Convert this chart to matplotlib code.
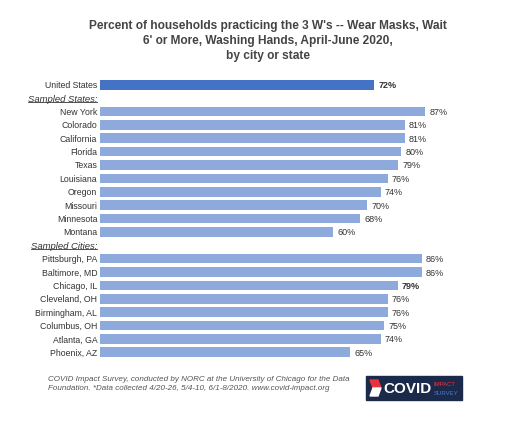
import matplotlib
matplotlib.use("Agg")
import matplotlib.pyplot as plt

labels = ["United States", "Sampled States:", "New York", "Colorado", "California", "Florida", "Texas",
          "Louisiana", "Oregon", "Missouri", "Minnesota", "Montana", "Sampled Cities:",
          "Pittsburgh, PA", "Baltimore, MD", "Chicago, IL", "Cleveland, OH", "Birmingham, AL",
          "Columbus, OH", "Atlanta, GA", "Phoenix, AZ"]
values = [72, None, 87, 81, 81, 80, 79, 76, 74, 70, 68, 60, None, 86, 86, 79, 76, 76, 75, 74, 65]
bold = {"United States", "Chicago, IL"}

plt.rcParams['font.family'] = ['Liberation Sans', 'DejaVu Sans']
fig = plt.figure(figsize=(5.21, 4.27), dpi=100)
W, H = 521, 427
XMIN, XMAX = -8.2, 115
ax = fig.add_axes([100/W, 1-360/H, 421/W, (360-79)/H])
n = len(labels)
for i, (lab, v) in enumerate(zip(labels, values)):
    y = i
    if v is None:
        ax.text(XMIN - 0.8, y, lab, ha='right', va='center', fontsize=6.8, style='italic', color='#333333')
        continue
    col = '#4472C4' if lab == "United States" else '#8EA9DB'
    ax.barh(y, v - XMIN, left=XMIN, height=0.72, color=col)
    ax.text(XMIN - 0.8, y, lab, ha='right', va='center', fontsize=6.3, color='#333333')
    ax.text(v + 1.2, y, f"{v}%", ha='left', va='center', fontsize=6.5, color='#333333',
            fontweight='bold' if lab in bold else 'normal')
ax.set_xlim(XMIN, XMAX)
ax.set_ylim(n - 0.5, -0.5)
ax.axis('off')
fig.canvas.draw()
r = fig.canvas.get_renderer()
for t in ax.texts:
    if t.get_text().endswith(':'):
        bb = t.get_window_extent(r)
        fig.lines.append(plt.Line2D([bb.x0/W, bb.x1/W], [(bb.y0+0.5)/H]*2, transform=fig.transFigure,
                                    color='#333333', lw=0.6))

fig.text(0.515, 1-20/H, "Percent of households practicing the 3 W's -- Wear Masks, Wait\n6' or More, Washing Hands, April-June 2020,\nby city or state",
         ha='center', va='top', fontsize=8.6, fontweight='bold', color='#444444', linespacing=1.35)
fig.text(48/W, 1-384/H, "COVID Impact Survey, conducted by NORC at the University of Chicago for the Data\nFoundation. *Data collected 4/20-26, 5/4-10, 6/1-8/2020. www.covid-impact.org",
         ha='left', va='center', fontsize=5.8, style='italic', color='#555555', linespacing=1.4)
lx, ly, lw, lh = 366/W, 1-401/H, 96/W, 24/H
fig.patches.append(plt.Rectangle((lx, ly), lw, lh, transform=fig.transFigure, color='#1B2A4A'))
fig.patches.append(plt.Polygon([(lx+4/W, ly+20/H), (lx+12/W, ly+20/H), (lx+15/W, ly+12/H), (lx+7/W, ly+12/H)],
                               closed=True, transform=fig.transFigure, color='#E8343A'))
fig.patches.append(plt.Polygon([(lx+7/W, ly+12/H), (lx+15/W, ly+12/H), (lx+12/W, ly+4/H), (lx+4/W, ly+4/H)],
                               closed=True, transform=fig.transFigure, color='#FFFFFF'))
fig.text(lx+17/W, ly+lh/2, "COVID", ha='left', va='center', fontsize=11, fontweight='bold', color='white')
fig.text(lx+68/W, ly+lh*0.68, "IMPACT", ha='left', va='center', fontsize=4.3, color='#E8343A')
fig.text(lx+68/W, ly+lh*0.3, "SURVEY", ha='left', va='center', fontsize=4.3, color='#4A7BD0')
fig.savefig("out.png", dpi=100)
